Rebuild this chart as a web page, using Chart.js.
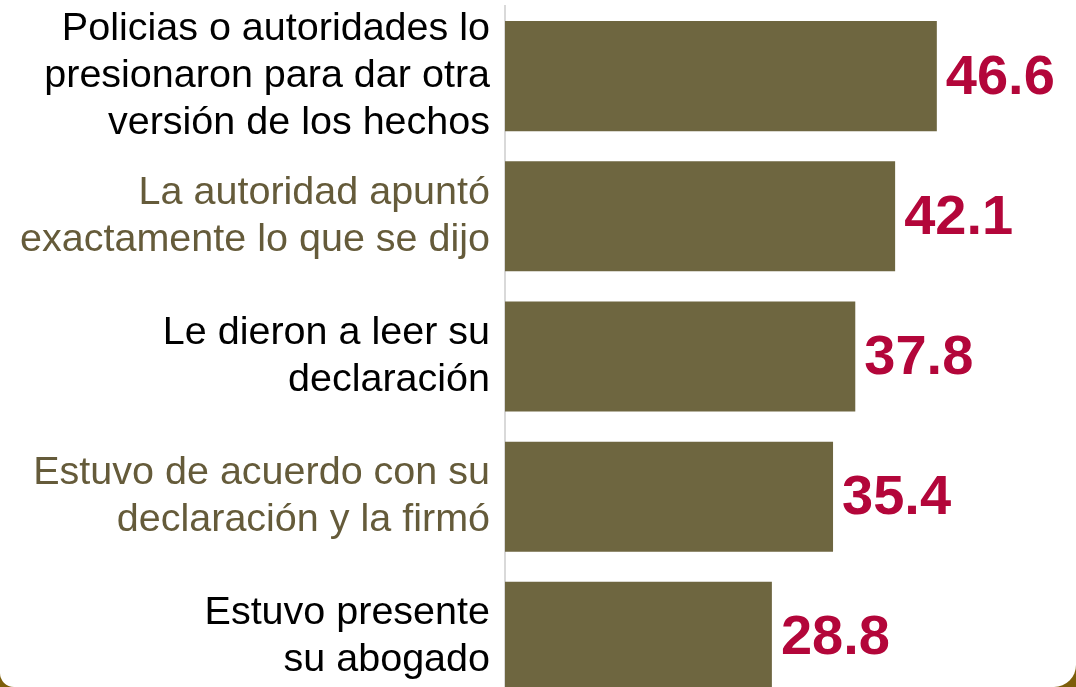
<!DOCTYPE html>
<html>
<head>
<meta charset="utf-8">
<script src="https://cdn.jsdelivr.net/npm/chart.js@4/dist/chart.umd.min.js"></script>
<style>
  html, body { margin: 0; padding: 0; background: #fff; overflow: hidden; }
  #wrap { position: relative; width: 1076px; height: 707px; }
  #frame {
    position: fixed; left: 0; top: 0; width: 1076px; height: 687px;
    pointer-events: none;
    border-bottom-left-radius: 14px;
    border-bottom-right-radius: 22px;
    box-shadow: 0 0 0 40px #7d5e0a;
  }
</style>
</head>
<body>
<div id="wrap"><canvas id="chartContainer"></canvas></div>
<div id="frame"></div>
<script>
// categories (multi-line labels) and values
const categories = [
  ['Policias o autoridades lo', 'presionaron para dar otra', 'versión de los hechos'],
  ['La autoridad apuntó', 'exactamente lo que se dijo'],
  ['Le dieron a leer su', 'declaración'],
  ['Estuvo de acuerdo con su', 'declaración y la firmó'],
  ['Estuvo presente', 'su abogado']
];
const values = [46.6, 42.1, 37.8, 35.4, 28.8];
const labelColors = ['#000000', '#655b3a', '#000000', '#655b3a', '#000000'];

// value labels to the right of each bar
const valueLabels = {
  id: 'valueLabels',
  afterDatasetsDraw(chart) {
    const ctx = chart.ctx;
    const meta = chart.getDatasetMeta(0);
    ctx.save();
    ctx.font = 'bold 56px "Liberation Sans", Arial, sans-serif';
    ctx.fillStyle = '#b3063a';
    ctx.textAlign = 'left';
    ctx.textBaseline = 'middle';
    meta.data.forEach((bar, i) => {
      ctx.fillText(values[i].toFixed(1), bar.x + 9, bar.y + 2);
    });
    ctx.restore();
  }
};

const ctx = document.getElementById('chartContainer');

new Chart(ctx, {
  type: 'bar',
  data: {
    labels: categories,
    datasets: [{
      data: values,
      backgroundColor: '#6e6640',
      borderWidth: 0,
      barPercentage: 0.785,
      categoryPercentage: 1
    }]
  },
  options: {
    indexAxis: 'y',
    responsive: true,
    maintainAspectRatio: false,
    animation: false,
    layout: { padding: { top: 6, bottom: 0, left: 0, right: 15 } },
    plugins: {
      legend: { display: false },
      tooltip: { enabled: false }
    },
    scales: {
      x: {
        display: false,
        min: 0,
        max: 60
      },
      y: {
        afterFit: s => { s.width = 505; s.paddingTop = 0; s.paddingBottom = 0; },
        grid: { display: false, drawTicks: false },
        border: { display: true, color: '#d9d9d9', width: 2 },
        ticks: {
          autoSkip: false,
          padding: 15,
          color: c => labelColors[c.index],
          font: { family: '"Liberation Sans", Arial, sans-serif', size: 39.5, lineHeight: 1.19 }
        }
      }
    }
  },
  plugins: [valueLabels]
});
</script>
</body>
</html>
